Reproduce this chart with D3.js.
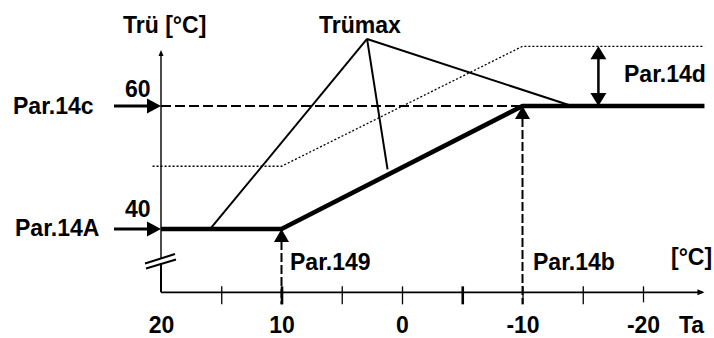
<!DOCTYPE html>
<html><head><meta charset="utf-8">
<script src="https://cdn.jsdelivr.net/npm/d3@7"></script>
<style>html,body{margin:0;padding:0;background:#fff;overflow:hidden}</style>
</head><body><svg id="c" width="714" height="338"></svg>
<script>
// ---- data ----
const tickLabels = ["20", "10", "0", "-10", "-20"];
const tickLabelValues = [20, 10, 0, -10, -20];
const minorTickValues = [15, 10, 5, 0, -5, -10, -15, -20];
const thickTickValues = [10, -5];
const curveTa = [20, 10, -10, -25.1];
const curveT = [40, 40, 60, 60];
const dottedTa = [20.7, 10, -10, -25.1];
const dottedT = [50.2, 50.2, 69.7, 69.7];
const trumaxApex = [2.9, 70.9];
const trumaxEndsTa = [16, 1.2, -14.1];
const trumaxEndsT = [39.8, 49.7, 60];
const par14c = 60, par14A = 40, par149 = 10, par14b = -10, par14dTa = -16.3, par14dT = 69.7;
const axisTaMax = -25.1, axisTBottom = 29.7, axisTTop = 69.1;

// ---- scales ----
const x = d3.scaleLinear().domain([20, -20]).range([161, 643]);
const y = d3.scaleLinear().domain([40, 60]).range([229, 106]);
const svg = d3.select("#c");
const FONT = "'Liberation Sans', Arial, sans-serif";
const line = d3.line().x(d => x(d[0])).y(d => y(d[1]));

// dotted offset curve
svg.append("path").attr("d", line(dottedTa.map((t, i) => [t, dottedT[i]])))
  .attr("fill", "none").attr("stroke", "#000").attr("stroke-width", 1.3).attr("stroke-dasharray", "2,2");

// dashed reference lines
svg.append("line").attr("x1", x(20)).attr("x2", x(par14b)).attr("y1", y(par14c)).attr("y2", y(par14c))
  .attr("stroke", "#000").attr("stroke-width", 2).attr("stroke-dasharray", "10,4");
[[par149, par14A], [par14b, par14c]].forEach(([ta, t]) => {
  svg.append("line").attr("x1", x(ta)).attr("x2", x(ta)).attr("y1", y(t) + 12).attr("y2", y(axisTBottom) + 12)
    .attr("stroke", "#000").attr("stroke-width", 2).attr("stroke-dasharray", "9,3");
});

// Trümax lines
trumaxEndsTa.forEach((ta, i) => {
  svg.append("line").attr("x1", x(trumaxApex[0])).attr("y1", y(trumaxApex[1]))
    .attr("x2", x(ta)).attr("y2", y(trumaxEndsT[i]))
    .attr("stroke", "#000").attr("stroke-width", 2);
});

// thick heating curve
svg.append("path").attr("d", line(curveTa.map((t, i) => [t, curveT[i]])))
  .attr("fill", "none").attr("stroke", "#000").attr("stroke-width", 4.5).attr("stroke-linejoin", "miter");

// x axis
const ax = y(axisTBottom);
svg.append("line").attr("x1", x(20)).attr("x2", x(axisTaMax) - 2).attr("y1", ax).attr("y2", ax)
  .attr("stroke", "#000").attr("stroke-width", 1.6);
svg.append("path").attr("d", `M${x(axisTaMax)},${ax} l-7,-3 l0,6 z`).attr("fill", "#000");
const tickAxis = d3.axisBottom(x).tickValues(minorTickValues).tickSize(18).tickFormat("");
const tg = svg.append("g").attr("transform", `translate(0,${ax - 6})`).call(tickAxis);
tg.select(".domain").remove();
tg.selectAll(".tick line").attr("stroke", "#000")
  .attr("stroke-width", d => thickTickValues.includes(d) ? 2.6 : 1.3)
  .attr("y2", d => d === -20 ? 16 : 18);

const labAxis = d3.axisBottom(x).tickValues(tickLabelValues).tickSize(0).tickPadding(0)
  .tickFormat((d, i) => tickLabels[i]);
const lg = svg.append("g").attr("transform", `translate(0,${ax + 24})`).call(labAxis);
lg.select(".domain").remove();
lg.selectAll("text").attr("font-family", FONT).attr("font-weight", "bold").attr("font-size", 23)
  .attr("fill", "#000").attr("dy", "0.71em");

// y axis (with break)
const yx = x(20);
svg.append("line").attr("x1", yx).attr("x2", yx).attr("y1", y(axisTTop) + 3).attr("y2", 258)
  .attr("stroke", "#000").attr("stroke-width", 1.4);
svg.append("path").attr("d", `M${yx},${y(axisTTop)} l-2.5,6 l5,0 z`).attr("fill", "#000");
svg.append("line").attr("x1", yx).attr("x2", yx).attr("y1", 263).attr("y2", ax)
  .attr("stroke", "#000").attr("stroke-width", 2);
svg.append("line").attr("x1", 145).attr("y1", 263.5).attr("x2", 175).attr("y2", 254)
  .attr("stroke", "#000").attr("stroke-width", 2);
svg.append("line").attr("x1", 146).attr("y1", 268.5).attr("x2", 176).attr("y2", 259.5)
  .attr("stroke", "#000").attr("stroke-width", 2);

// left arrows
[par14c, par14A].forEach(t => {
  const yy = y(t);
  svg.append("line").attr("x1", 114).attr("x2", yx - 12).attr("y1", yy).attr("y2", yy)
    .attr("stroke", "#000").attr("stroke-width", 3);
  svg.append("path").attr("d", `M${yx},${yy} l-14,-7.5 l0,15 z`).attr("fill", "#000");
});

// upward triangles
[[par149, par14A], [par14b, par14c]].forEach(([ta, t]) => {
  svg.append("path").attr("d", `M${x(ta)},${y(t)} l7.5,13 l-15,0 z`).attr("fill", "#000");
});

// Par.14d double arrow
const dx = x(par14dTa);
svg.append("line").attr("x1", dx).attr("x2", dx).attr("y1", y(par14dT) + 8).attr("y2", y(par14c) - 8)
  .attr("stroke", "#000").attr("stroke-width", 2.5);
svg.append("path").attr("d", `M${dx},${y(par14dT)} l8,13 l-16,0 z`).attr("fill", "#000");
svg.append("path").attr("d", `M${dx},${y(par14c)} l8,-13 l-16,0 z`).attr("fill", "#000");

// texts
const texts = [
  ["Trü [°C]", 123, 33],
  ["Trümax", 319, 33],
  ["60", 125, 96.5],
  ["Par.14c", 13, 113.5],
  ["40", 125, 216.5],
  ["Par.14A", 15, 235.5],
  ["Par.149", 290, 270],
  ["Par.14b", 533, 270],
  ["[°C]", 671, 265],
  ["Ta", 679, 333],
  ["Par.14d", 624, 81.5]
];
texts.forEach(([s, tx, ty]) => {
  svg.append("text").attr("x", tx).attr("y", ty).text(s)
    .attr("font-family", FONT).attr("font-weight", "bold").attr("font-size", 23).attr("fill", "#000");
});
</script></body></html>
